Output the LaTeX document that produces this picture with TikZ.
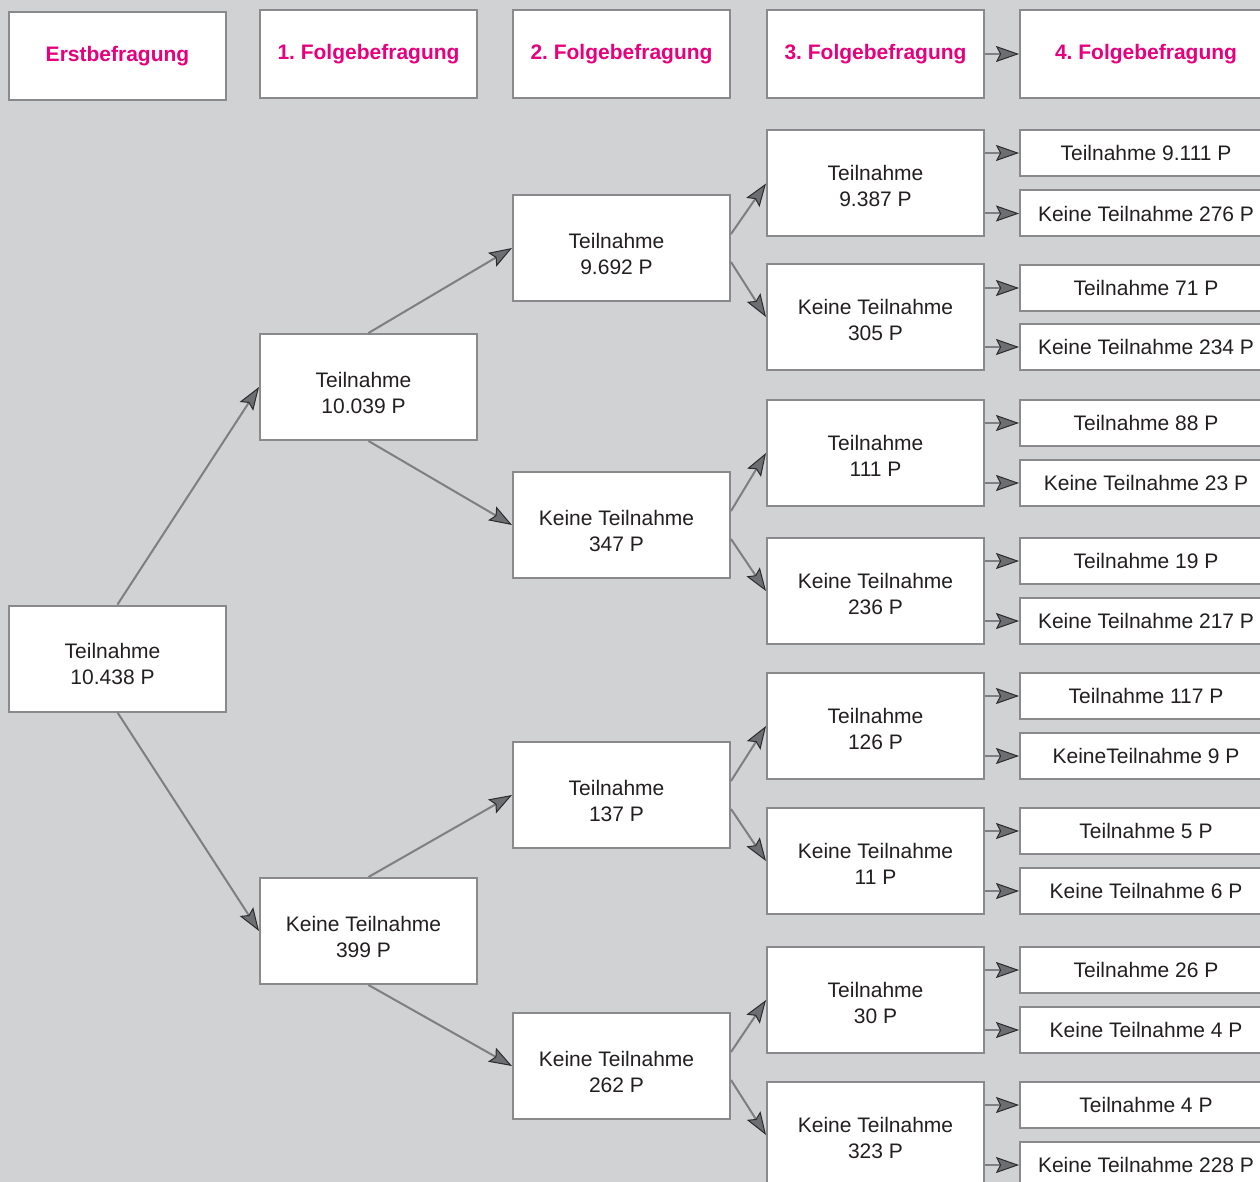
\documentclass[tikz,border=0pt]{standalone}
\usepackage{fontspec}
\setmainfont{Liberation Sans}
\usepackage{tikz}
\usetikzlibrary{arrows.meta}
\frenchspacing

\definecolor{bggray}{HTML}{D1D2D4}
\definecolor{boxgray}{HTML}{8A8A8C}
\definecolor{linegray}{HTML}{7F7F81}
\definecolor{tipgray}{HTML}{6D6E71}
\definecolor{tipdark}{HTML}{2B2B2B}
\definecolor{headpink}{HTML}{E6007E}
\definecolor{textdark}{HTML}{231F20}

\tikzset{
    box/.style={draw=boxgray, fill=white, line width=2pt, rectangle, minimum width=217pt, minimum height=106pt, inner sep=0pt, text=textdark, font=\fontsize{21}{26}\selectfont},
    treebox/.style={box, text height=39.25pt, text depth=12.75pt, execute at end node={\hspace*{10pt}}},
    rightbox/.style={box, text height=36.25pt, text depth=15.75pt},
    headbox/.style={box, minimum height=88pt, text=headpink, font=\fontsize{21}{26}\selectfont\bfseries},
    leafbox/.style={box, minimum width=252pt, minimum height=46pt},
    arr/.style={draw=linegray, line width=2pt, -{Stealth[length=23pt, width=16pt, inset=4pt, line width=1pt, color=tipdark, fill=tipgray]}},
}

\begin{document}
\begin{tikzpicture}[x=1pt, y=-1pt]
    \useasboundingbox (0,0) rectangle (1260,1182);
    \clip (0,0) rectangle (1260,1182);
    \fill [bggray] (0,0) rectangle (1260,1182);

    \node (head0) at (117.5,56) [headbox] {Erstbefragung};
    \node (head1) at (368.5,54) [headbox] {1. Folgebefragung};
    \node (head2) at (621.5,54) [headbox] {2. Folgebefragung};
    \node (head3) at (875.5,54) [headbox] {3. Folgebefragung};
    \node (head4) at (1146,54) [headbox, minimum width=252pt] {4. Folgebefragung};
    \draw [arr] (head3) -- (head4);

    \node (start) at (117.5,658.5) [treebox] {\begin{tabular}{c} Teilnahme \\ 10.438 P \end{tabular}};

    \node (t) at (368.5,387) [treebox] {\begin{tabular}{c} Teilnahme \\ 10.039 P \end{tabular}};
    \node (k) at (368.5,931) [treebox] {\begin{tabular}{c} Keine Teilnahme \\ 399 P \end{tabular}};
    \draw [arr] (start.north) -- (t.west);
    \draw [arr] (start.south) -- (k.west);

    \node (tt) at (621.5,248) [treebox] {\begin{tabular}{c} Teilnahme \\ 9.692 P \end{tabular}};
    \node (tk) at (621.5,525) [treebox] {\begin{tabular}{c} Keine Teilnahme \\ 347 P \end{tabular}};
    \node (kt) at (621.5,795) [treebox] {\begin{tabular}{c} Teilnahme \\ 137 P \end{tabular}};
    \node (kk) at (621.5,1066) [treebox] {\begin{tabular}{c} Keine Teilnahme \\ 262 P \end{tabular}};
    \draw [arr] (t.north) -- (tt.west);
    \draw [arr] (t.south) -- (tk.west);
    \draw [arr] (k.north) -- (kt.west);
    \draw [arr] (k.south) -- (kk.west);

    \node (ttt) at (875.5,183.5) [rightbox] {\begin{tabular}{c} Teilnahme \\ 9.387 P \end{tabular}};
    \node (ttk) at (875.5,317) [rightbox] {\begin{tabular}{c} Keine Teilnahme \\ 305 P \end{tabular}};
    \node (tkt) at (875.5,453) [rightbox] {\begin{tabular}{c} Teilnahme \\ 111 P \end{tabular}};
    \node (tkk) at (875.5,591) [rightbox] {\begin{tabular}{c} Keine Teilnahme \\ 236 P \end{tabular}};
    \node (ktt) at (875.5,726) [rightbox] {\begin{tabular}{c} Teilnahme \\ 126 P \end{tabular}};
    \node (ktk) at (875.5,861) [rightbox] {\begin{tabular}{c} Keine Teilnahme \\ 11 P \end{tabular}};
    \node (kkt) at (875.5,1000) [rightbox] {\begin{tabular}{c} Teilnahme \\ 30 P \end{tabular}};
    \node (kkk) at (875.5,1135) [rightbox] {\begin{tabular}{c} Keine Teilnahme \\ 323 P \end{tabular}};
    \draw [arr] ([yshift=14pt]tt.east) -- (ttt.west);
    \draw [arr] ([yshift=-14pt]tt.east) -- (ttk.west);
    \draw [arr] ([yshift=14pt]tk.east) -- (tkt.west);
    \draw [arr] ([yshift=-14pt]tk.east) -- (tkk.west);
    \draw [arr] ([yshift=14pt]kt.east) -- (ktt.west);
    \draw [arr] ([yshift=-14pt]kt.east) -- (ktk.west);
    \draw [arr] ([yshift=14pt]kk.east) -- (kkt.west);
    \draw [arr] ([yshift=-14pt]kk.east) -- (kkk.west);

    % 4. Folgebefragung
    \node (tttt) at (1146,153) [leafbox] {Teilnahme 9.111 P};
    \node (tttk) at (1146,213.5) [leafbox] {Keine Teilnahme 276 P};
    \node (ttkt) at (1146,288) [leafbox] {Teilnahme 71 P};
    \node (ttkk) at (1146,347) [leafbox] {Keine Teilnahme 234 P};
    \node (tktt) at (1146,423) [leafbox] {Teilnahme 88 P};
    \node (tktk) at (1146,483) [leafbox] {Keine Teilnahme 23 P};
    \node (tkkt) at (1146,561) [leafbox] {Teilnahme 19 P};
    \node (tkkk) at (1146,621) [leafbox] {Keine Teilnahme 217 P};
    \node (kttt) at (1146,696) [leafbox] {Teilnahme 117 P};
    \node (kttk) at (1146,756) [leafbox] {KeineTeilnahme 9 P};
    \node (ktkt) at (1146,831) [leafbox] {Teilnahme 5 P};
    \node (ktkk) at (1146,891) [leafbox] {Keine Teilnahme 6 P};
    \node (kktt) at (1146,970) [leafbox] {Teilnahme 26 P};
    \node (kktk) at (1146,1030) [leafbox] {Keine Teilnahme 4 P};
    \node (kkkt) at (1146,1105) [leafbox] {Teilnahme 4 P};
    \node (kkkk) at (1146,1165) [leafbox] {Keine Teilnahme 228 P};

    \draw [arr] (tttt.west -| ttt.east) -- (tttt.west);
    \draw [arr] (tttk.west -| ttt.east) -- (tttk.west);
    \draw [arr] (ttkt.west -| ttk.east) -- (ttkt.west);
    \draw [arr] (ttkk.west -| ttk.east) -- (ttkk.west);
    \draw [arr] (tktt.west -| tkt.east) -- (tktt.west);
    \draw [arr] (tktk.west -| tkt.east) -- (tktk.west);
    \draw [arr] (tkkt.west -| tkk.east) -- (tkkt.west);
    \draw [arr] (tkkk.west -| tkk.east) -- (tkkk.west);
    \draw [arr] (kttt.west -| ktt.east) -- (kttt.west);
    \draw [arr] (kttk.west -| ktt.east) -- (kttk.west);
    \draw [arr] (ktkt.west -| ktk.east) -- (ktkt.west);
    \draw [arr] (ktkk.west -| ktk.east) -- (ktkk.west);
    \draw [arr] (kktt.west -| kkt.east) -- (kktt.west);
    \draw [arr] (kktk.west -| kkt.east) -- (kktk.west);
    \draw [arr] (kkkt.west -| kkk.east) -- (kkkt.west);
    \draw [arr] (kkkk.west -| kkk.east) -- (kkkk.west);
\end{tikzpicture}
\end{document}
